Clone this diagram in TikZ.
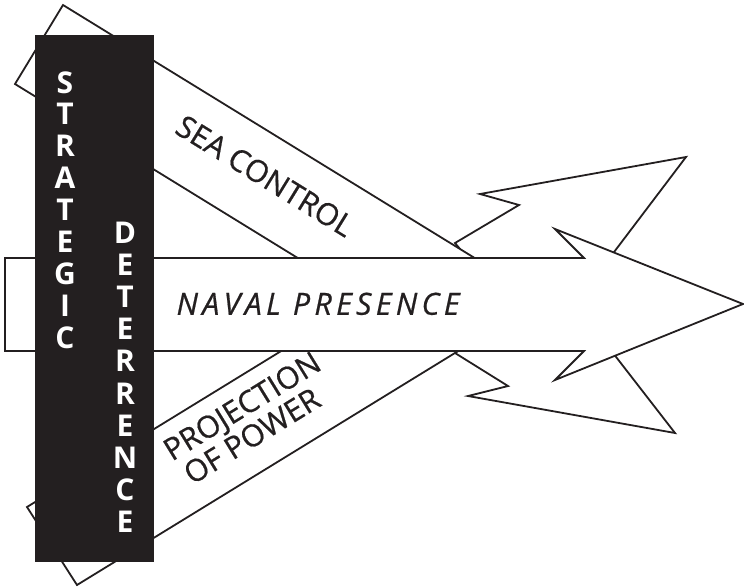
\documentclass[tikz,border=0pt]{standalone}
\usepackage{fontspec}
\setmainfont{Open Sans}
\newfontfamily\labelfont[FakeBold=0.6]{Open Sans}
\definecolor{ink}{HTML}{231F20}
\begin{document}
\begin{tikzpicture}[
  x=1pt, y=-1pt,
  band/.style={draw=ink, fill=white, line width=1.8pt, line join=miter},
  label/.style={text=ink, inner sep=0pt, text height=21.5pt, text depth=0pt, font=\labelfont\fontsize{30.5}{31}\selectfont},
  letter/.style={text=white, inner sep=0pt, text height=22pt, text depth=0pt, font=\bfseries\fontsize{30}{30}\selectfont},
]
\useasboundingbox (0,0) rectangle (744,587);

% Sea control: head first, shaft laid over it.
\draw[band] (455,243) -- (519,205) -- (480,194) -- (686,157) -- (580,297) -- (500,297) -- cycle;
\draw[band] (63,5) -- (543,300) -- (366,300) -- (15,84) -- cycle;

% Projection of power, the same below.
\draw[band] (455,353) -- (508,386) -- (468,396) -- (675,433) -- (582,313) -- (500,313) -- cycle;
\draw[band] (77,585) -- (525,310) -- (348,310) -- (27,507) -- cycle;

% Naval presence arrow over both bands.
\draw[band] (5,258) -- (584,258) -- (555,229) -- (743,304) -- (555,380) -- (584,351) -- (5,351) -- cycle;

% Black bar with the two vertical words.
\fill[ink] (35,35) rectangle (154,562);
\foreach \ch [count=\i from 0] in {S,T,R,A,T,E,G,I,C}
  \node[letter] (st\i) at (65, 82+31.9*\i) {\ch};
\foreach \ch [count=\i from 0] in {D,E,T,E,R,R,E,N,C,E}
  \node[letter] (de\i) at (125, 232+32.2*\i) {\ch};

% Band labels.
\node[label, rotate=-31.6] (sea) at (265,176) {SEA CONTROL};
\node[label, rotate=31.6] (proj) at (242,406) {PROJECTION};
\node[label, rotate=31.6] (pow) at (252,436) {OF POWER};
\node[label, font=\labelfont\itshape\addfontfeatures{LetterSpace=14}\fontsize{30.5}{31}\selectfont] (naval) at (318,304) {NAVAL PRESENCE};

\end{tikzpicture}
\end{document}
